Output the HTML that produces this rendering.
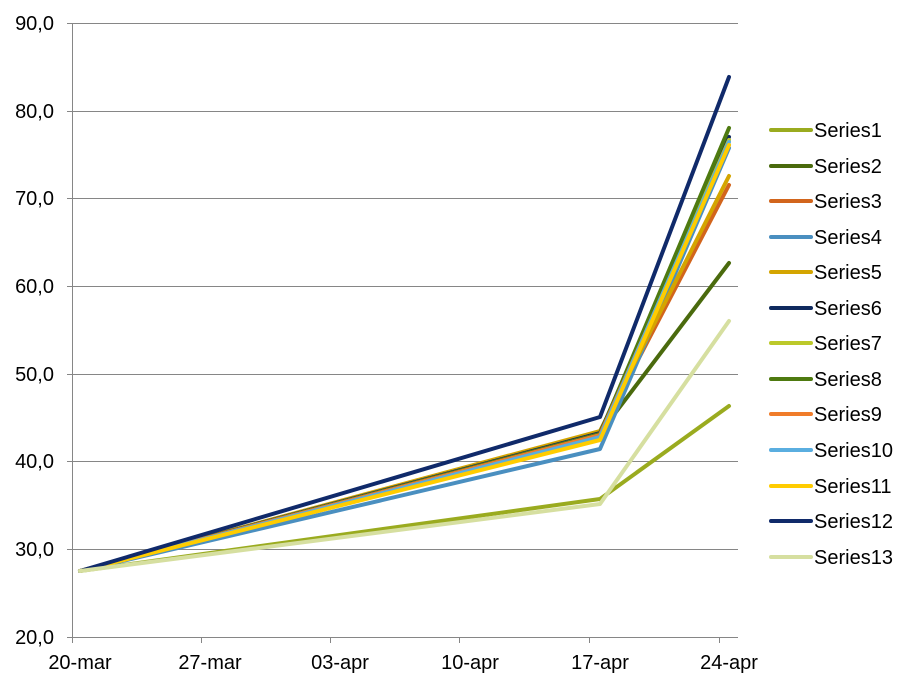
<!DOCTYPE html>
<html><head><meta charset="utf-8"><style>
html,body{margin:0;padding:0;background:#fff;}
svg{display:block;font-family:"Liberation Sans",Arial,sans-serif;}
</style></head><body>
<svg width="918" height="688" viewBox="0 0 918 688" xmlns="http://www.w3.org/2000/svg">
<g stroke="#868686" stroke-width="1">
<line x1="73" y1="23.5" x2="738" y2="23.5"/>
<line x1="73" y1="111.5" x2="738" y2="111.5"/>
<line x1="73" y1="198.5" x2="738" y2="198.5"/>
<line x1="73" y1="286.5" x2="738" y2="286.5"/>
<line x1="73" y1="374.5" x2="738" y2="374.5"/>
<line x1="73" y1="461.5" x2="738" y2="461.5"/>
<line x1="73" y1="549.5" x2="738" y2="549.5"/>
<line x1="73" y1="637.5" x2="738" y2="637.5"/>
<line x1="72.5" y1="23" x2="72.5" y2="637"/>
<line x1="67" y1="23.5" x2="73" y2="23.5"/><line x1="67" y1="111.5" x2="73" y2="111.5"/><line x1="67" y1="198.5" x2="73" y2="198.5"/><line x1="67" y1="286.5" x2="73" y2="286.5"/><line x1="67" y1="374.5" x2="73" y2="374.5"/><line x1="67" y1="461.5" x2="73" y2="461.5"/><line x1="67" y1="549.5" x2="73" y2="549.5"/><line x1="67" y1="637.5" x2="73" y2="637.5"/>
<line x1="72.5" y1="637" x2="72.5" y2="643"/><line x1="201.5" y1="637" x2="201.5" y2="643"/><line x1="330.5" y1="637" x2="330.5" y2="643"/><line x1="459.5" y1="637" x2="459.5" y2="643"/><line x1="589.5" y1="637" x2="589.5" y2="643"/><line x1="719.5" y1="637" x2="719.5" y2="643"/>
</g>
<g font-size="20" fill="#000" text-anchor="end">
<text x="54" y="30">90,0</text><text x="54" y="118">80,0</text><text x="54" y="205">70,0</text><text x="54" y="293">60,0</text><text x="54" y="381">50,0</text><text x="54" y="468">40,0</text><text x="54" y="556">30,0</text><text x="54" y="644">20,0</text>
</g>
<g font-size="20" fill="#000" text-anchor="middle">
<text x="80" y="669">20-mar</text><text x="210" y="669">27-mar</text><text x="340" y="669">03-apr</text><text x="470" y="669">10-apr</text><text x="600" y="669">17-apr</text><text x="729" y="669">24-apr</text>
</g>
<g fill="none" stroke-width="4" stroke-linejoin="round" stroke-linecap="round">
<polyline stroke="#9aab1f" points="80,571 600,499 729,406"/>
<polyline stroke="#4a6a0d" points="80,571 600,433 729,263"/>
<polyline stroke="#d2651c" points="80,571 600,433 729,185"/>
<polyline stroke="#4a8fc0" points="80,571 600,449 729,148"/>
<polyline stroke="#d4a500" points="80,571 600,431 729,176"/>
<polyline stroke="#0f2a5e" points="80,571 600,433 729,137"/>
<polyline stroke="#bcc92a" points="80,571 600,434 729,140"/>
<polyline stroke="#4e7a10" points="80,571 600,434 729,128"/>
<polyline stroke="#f07c2a" points="80,571 600,435 729,145"/>
<polyline stroke="#5aaee0" points="80,571 600,437 729,142"/>
<polyline stroke="#ffcc00" points="80,571 600,440 729,145"/>
<polyline stroke="#102a6a" points="80,571 600,417 729,77"/>
<polyline stroke="#d6dfa0" points="80,571 600,504 729,321"/>
</g>
<g stroke-width="4" stroke-linecap="round">
<line x1="771" y1="130" x2="811" y2="130" stroke="#9aab1f"/>
<line x1="771" y1="166" x2="811" y2="166" stroke="#4a6a0d"/>
<line x1="771" y1="201" x2="811" y2="201" stroke="#d2651c"/>
<line x1="771" y1="237" x2="811" y2="237" stroke="#4a8fc0"/>
<line x1="771" y1="272" x2="811" y2="272" stroke="#d4a500"/>
<line x1="771" y1="308" x2="811" y2="308" stroke="#0f2a5e"/>
<line x1="771" y1="343" x2="811" y2="343" stroke="#bcc92a"/>
<line x1="771" y1="379" x2="811" y2="379" stroke="#4e7a10"/>
<line x1="771" y1="414" x2="811" y2="414" stroke="#f07c2a"/>
<line x1="771" y1="450" x2="811" y2="450" stroke="#5aaee0"/>
<line x1="771" y1="486" x2="811" y2="486" stroke="#ffcc00"/>
<line x1="771" y1="521" x2="811" y2="521" stroke="#102a6a"/>
<line x1="771" y1="557" x2="811" y2="557" stroke="#d6dfa0"/>
</g>
<g font-size="20" fill="#000">
<text x="814" y="137">Series1</text><text x="814" y="173">Series2</text><text x="814" y="208">Series3</text><text x="814" y="244">Series4</text><text x="814" y="279">Series5</text><text x="814" y="315">Series6</text><text x="814" y="350">Series7</text><text x="814" y="386">Series8</text><text x="814" y="421">Series9</text><text x="814" y="457">Series10</text><text x="814" y="493">Series11</text><text x="814" y="528">Series12</text><text x="814" y="564">Series13</text>
</g>
</svg>
</body></html>
